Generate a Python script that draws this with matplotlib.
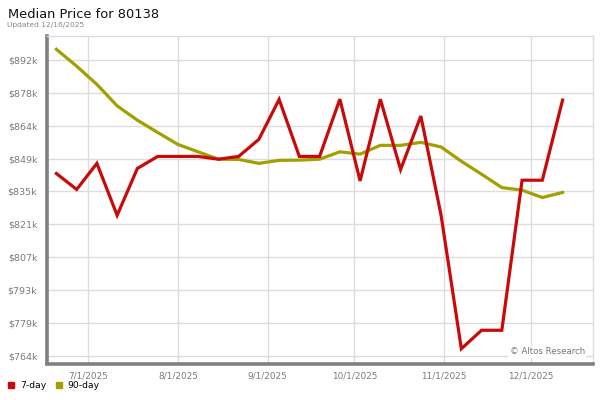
import matplotlib
matplotlib.use("Agg")
import matplotlib.pyplot as plt
import matplotlib.dates as mdates
from matplotlib.lines import Line2D
import numpy as np
import pandas as pd

# ---- data ----
dates = ["2025-06-20", "2025-06-27", "2025-07-04", "2025-07-11", "2025-07-18",
         "2025-07-25", "2025-08-01", "2025-08-08", "2025-08-15", "2025-08-22",
         "2025-08-29", "2025-09-05", "2025-09-12", "2025-09-19", "2025-09-26",
         "2025-10-03", "2025-10-10", "2025-10-17", "2025-10-24", "2025-10-31",
         "2025-11-07", "2025-11-14", "2025-11-21", "2025-11-28", "2025-12-05",
         "2025-12-12"]
price_7day = [842900, 836000, 847300, 824800, 845100, 850300, 850300, 850300,
              849100, 850300, 857700, 875000, 850300, 850300, 875100, 839700,
              875100, 844600, 867800, 824800, 767000, 775000, 775000, 840000,
              840000, 874700]
price_90day = [896700, 889400, 881500, 872200, 866000, 860700, 855500, 852300,
               849100, 849000, 847300, 848600, 848700, 849100, 852300, 851300,
               855100, 855100, 856400, 854400, 848200, 842600, 836800, 835700,
               832500, 834700]
ytick_values = [764000 + i * 14222.2 for i in range(10)]
ytick_labels = ["$764k", "$779k", "$793k", "$807k", "$821k", "$835k",
                "$849k", "$864k", "$878k", "$892k"]
xtick_dates = ["2025-07-01", "2025-08-01", "2025-09-01", "2025-10-01",
               "2025-11-01", "2025-12-01"]
xtick_labels = ["7/1/2025", "8/1/2025", "9/1/2025", "10/1/2025",
                "11/1/2025", "12/1/2025"]

RED = "#C80A0A"
OLIVE = "#A29F00"
GRID = "#DCDCDC"
TICKC = "#7A7A7A"

x = pd.to_datetime(dates)

fig = plt.figure(figsize=(6, 4), dpi=100)
ax = fig.add_axes([47 / 600, 1 - 363.5 / 400, (593.3 - 47) / 600, (363.5 - 35.7) / 400])

ax.plot(x, price_90day, color=OLIVE, lw=2.3, solid_joinstyle="miter", zorder=3)
ax.plot(x, price_7day, color=RED, lw=2.3, solid_joinstyle="miter", zorder=4)

ax.set_xlim(pd.Timestamp("2025-06-16 18:00"), pd.Timestamp("2025-12-22 15:00"))
ax.set_ylim(760600, 902600)

ax.set_yticks(ytick_values)
ax.set_yticklabels(ytick_labels)
ax.set_xticks(pd.to_datetime(xtick_dates))
ax.set_xticklabels(xtick_labels)

ax.tick_params(axis="y", length=0, pad=7, labelsize=6.8, labelcolor=TICKC)
ax.tick_params(axis="x", length=0, pad=6, labelsize=6.4, labelcolor=TICKC)

ax.grid(True, color=GRID, lw=1, zorder=0)
ax.set_axisbelow(True)

for s in ["top", "right"]:
    ax.spines[s].set_color(GRID)
    ax.spines[s].set_linewidth(1)
for s in ["left", "bottom"]:
    ax.spines[s].set_color("#808080")
    ax.spines[s].set_linewidth(2.6)

ax.text(0.985, 0.022, "\u00a9 Altos Research", transform=ax.transAxes,
        ha="right", va="bottom", fontsize=6.2, color="#777777", zorder=5,
        bbox=dict(facecolor="white", edgecolor="none", pad=1.0))

fig.text(8 / 600, 1 - 18.5 / 400, "Median Price for 80138", fontsize=9.4,
         color="#111111", ha="left", va="baseline")
fig.text(7 / 600, 1 - 27 / 400, "Updated 12/16/2025", fontsize=5.4,
         color="#888888", ha="left", va="baseline")

handles = [Line2D([], [], marker="s", color=RED, linestyle="", markersize=4.2),
           Line2D([], [], marker="s", color=OLIVE, linestyle="", markersize=4.2)]
fig.legend(handles, ["7-day", "90-day"], loc="center left",
           bbox_to_anchor=(3 / 600, 1 - 386 / 400), ncol=2, frameon=False,
           fontsize=6.7, handlelength=0.8, handletextpad=0.5,
           columnspacing=1.0, borderpad=0.3, borderaxespad=0.2)

fig.savefig("out.png", dpi=100)
